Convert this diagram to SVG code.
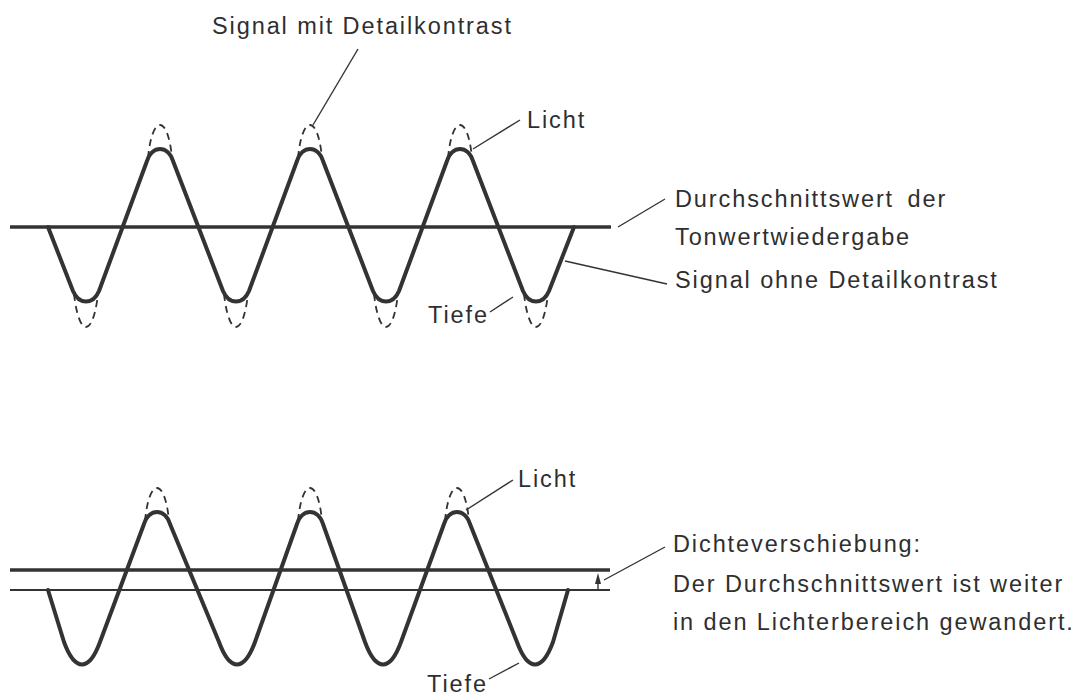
<svg xmlns="http://www.w3.org/2000/svg" width="1084" height="696" viewBox="0 0 1084 696">
<style>
text{font-family:"Liberation Sans",Arial,sans-serif;font-size:23.5px;letter-spacing:1.9px;fill:#2f2f2f}
.wave{fill:none;stroke:#333;stroke-width:4;stroke-linejoin:round;stroke-linecap:round}
.dash{fill:none;stroke:#333;stroke-width:1.8;stroke-dasharray:7 5}
.base{stroke:#333;stroke-width:3.5}
.thin{stroke:#333;stroke-width:1.8}
.lead{stroke:#333;stroke-width:1.4;fill:none}
</style>
<rect width="1084" height="696" fill="#fff"/>
<g id="top-diagram">
  <line class="base" x1="10" y1="227" x2="611" y2="227"/>
  <path class="wave" d="M48,227 L73,291 C79,305 93,305 99,291 L147,161 C152,145 168,145 173,161 L223,291 C229,305 243,305 249,291 L297,161 C302,145 318,145 323,161 L373,291 C379,305 393,305 399,291 L447,161 C452,145 468,145 473,161 L523,291 C529,305 543,305 549,291 L574,227"/>
  <path class="dash" d="M148,158 C152,114 168,114 172,158 M298,158 C302,114 318,114 322,158 M448,158 C452,114 468,114 472,158 M74,294 C79,338 93,338 98,294 M224,294 C229,338 243,338 248,294 M374,294 C379,338 393,338 398,294 M524,294 C529,338 543,338 548,294"/>
</g>
<g id="bottom-diagram">
  <line class="base" x1="10" y1="570" x2="610" y2="570"/>
  <line class="thin" x1="10" y1="590" x2="610" y2="590"/>
  <path class="wave" d="M48,590 L64,642 C75,672 89,672 100,642 L144,524 C149,508 165,508 170,524 L219,642 C230,672 244,672 255,642 L297,524 C302,508 318,508 323,524 L365,642 C376,672 390,672 401,642 L444,524 C449,508 465,508 470,524 L517,642 C528,672 542,672 553,642 L568,590"/>
  <path class="dash" d="M145,521 C149,477 165,477 169,521 M298,521 C302,477 318,477 322,521 M445,521 C449,477 465,477 469,521"/>
</g>
<g id="connectors">
  <line class="lead" x1="358" y1="49" x2="313" y2="125"/>
  <line class="lead" x1="520" y1="120" x2="473" y2="149"/>
  <line class="lead" x1="490" y1="312" x2="513" y2="297"/>
  <line class="lead" x1="618" y1="227" x2="665" y2="199"/>
  <line class="lead" x1="565" y1="261" x2="667" y2="284"/>
  <line class="lead" x1="513" y1="480" x2="466" y2="510"/>
  <line class="lead" x1="489" y1="679" x2="519" y2="663"/>
  <line class="lead" x1="604" y1="580" x2="665" y2="547"/>
  <line class="lead" x1="598" y1="590" x2="598" y2="580"/>
  <polygon points="595,584 601,584 598,573" fill="#333"/>
</g>
<g id="labels">
  <text x="212" y="34">Signal mit Detailkontrast</text>
  <text x="527" y="128">Licht</text>
  <text x="428" y="323">Tiefe</text>
  <text x="675" y="207">Durchschnittswert <tspan dx="5">der</tspan></text>
  <text x="675" y="245">Tonwertwiedergabe</text>
  <text x="675" y="288">Signal ohne Detailkontrast</text>
  <text x="518" y="487">Licht</text>
  <text x="427" y="692">Tiefe</text>
  <text x="673" y="552">Dichteverschiebung:</text>
  <text x="673" y="592">Der Durchschnittswert ist weiter</text>
  <text x="673" y="630">in den Lichterbereich gewandert.</text>
</g>
</svg>
